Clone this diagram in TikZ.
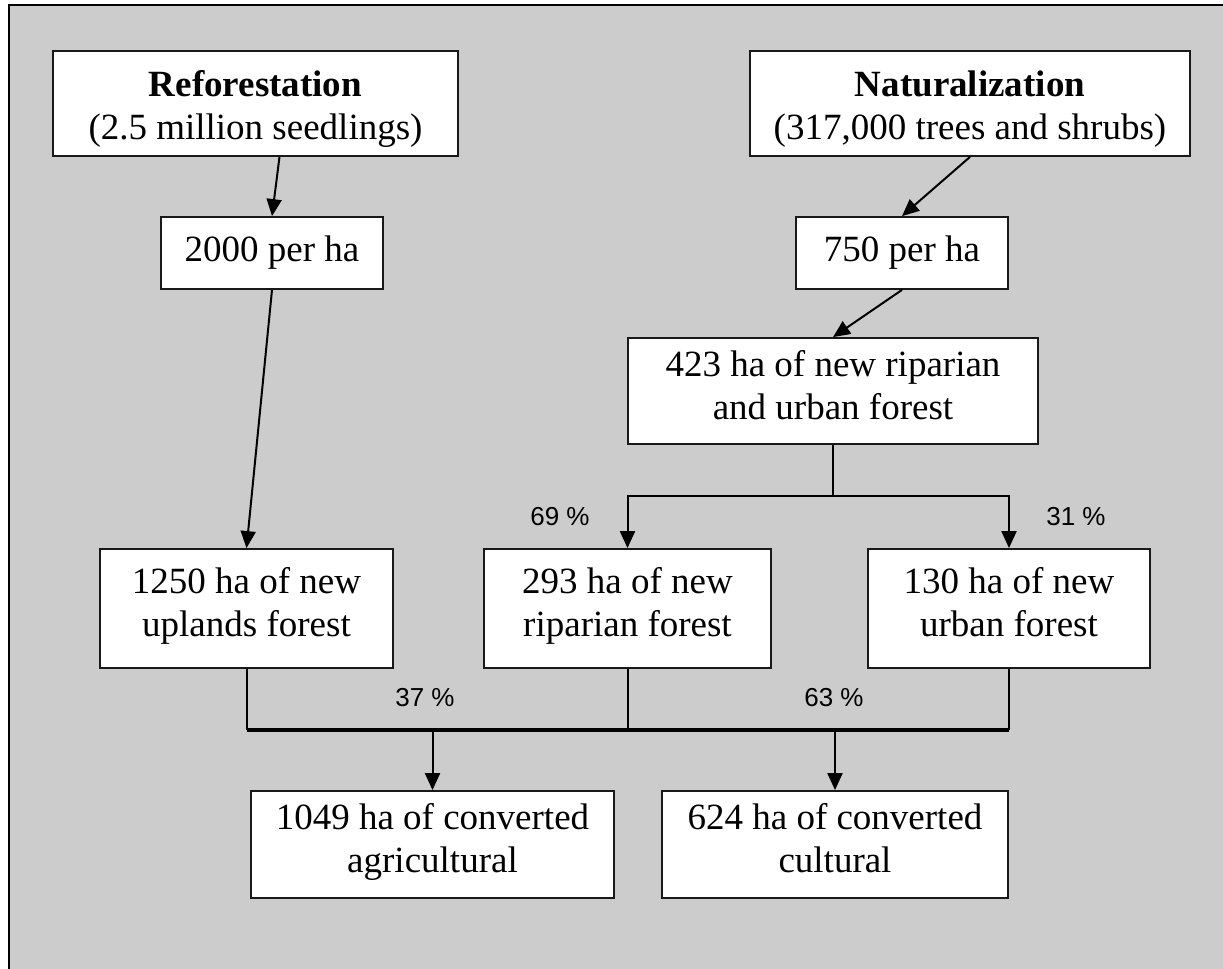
\documentclass[tikz,border=0pt]{standalone}
\usepackage{fontspec}
\setmainfont{Liberation Serif}
\newfontfamily\sharefont{Liberation Sans}
\usetikzlibrary{arrows.meta}
\tikzset{
	flowbox/.style = {shape=rectangle, draw=black!90, line width=0.9pt,
		fill=white, align=center, inner sep=0pt,
		font=\fontsize{18.5}{21.5}\selectfont,
		execute at begin node=\strut, execute at end node=\strut},
	headbox/.style = {flowbox, minimum height=52.5pt,
		execute at begin node=\rule{0pt}{42pt}},
	share/.style   = {font=\sharefont\fontsize{13}{15}\selectfont},
	wire/.style    = {draw, line width=1pt},
	bus/.style     = {draw, line width=1.6pt},
	link/.style    = {wire, -{Triangle[length=8.5pt,width=7.5pt]}}
}
\begin{document}
\begin{tikzpicture}
	[
	x = 0.5pt,
	y = -0.5pt
	]
	\useasboundingbox (0,0) rectangle (1223,969);
	\fill[black!20] (9,5) rectangle (1223,969);
	\draw[line width=1pt] (9,969) -- (9,5) -- (1223,5);

	\node [headbox, minimum width=202.5pt] (refo) at (255.5,103.5)
		{\textbf{Reforestation}\\(2.5 million seedlings)};
	\node [headbox, minimum width=220pt] (natu) at (970,103.5)
		{\textbf{Naturalization}\\(317,000 trees and shrubs)};
	\node [flowbox, minimum width=111pt, minimum height=36pt] (refoha) at (272,253) {2000 per ha};
	\node [flowbox, minimum width=106pt, minimum height=36pt] (natuha) at (902,253) {750 per ha};
	\node [flowbox, minimum width=205pt, minimum height=53pt] (riparurban) at (833,391)
		{423 ha of new riparian\\and urban forest};
	\node [flowbox, minimum width=146.5pt, minimum height=59.5pt] (uplands) at (246.5,608.5)
		{1250 ha of new\\uplands forest};
	\node [flowbox, minimum width=143.5pt, minimum height=59.5pt] (riparian) at (627.5,608.5)
		{293 ha of new\\riparian forest};
	\node [flowbox, minimum width=141pt, minimum height=59.5pt] (urban) at (1009,608.5)
		{130 ha of new\\urban forest};
	\node [flowbox, minimum width=181.5pt, minimum height=53.5pt] (agri) at (432.5,844.5)
		{1049 ha of converted\\agricultural};
	\node [flowbox, minimum width=173pt, minimum height=53.5pt] (cult) at (835,844.5)
		{624 ha of converted\\cultural};

	\node [share] (share69) at (560,517) {69 \%};
	\node [share] (share31) at (1076,517) {31 \%};
	\node [share] (share37) at (425,698) {37 \%};
	\node [share] (share63) at (834,698) {63 \%};

	\coordinate (split) at (833,496);
	\coordinate (merge) at (627.5,730);

	\draw [link] ([xshift=12pt]refo.south) -- (refoha.north);
	\draw [link] (refoha.south) -- (uplands.north);
	\draw [link] (natu.south) -- (natuha.north);
	\draw [link] (natuha.south) -- (riparurban.north);
	\draw [wire] (riparurban.south) -- (split);
	\draw [link] (split) -| (riparian.north);
	\draw [link] (split) -| (urban.north);
	\draw [wire] (uplands.south) -- (uplands.south |- merge);
	\draw [wire] (riparian.south) -- (merge);
	\draw [wire] (urban.south) -- (urban.south |- merge);
	\draw [bus] (uplands.south |- merge) -- (urban.south |- merge);
	\draw [link] (agri.north |- merge) -- (agri.north);
	\draw [link] (cult.north |- merge) -- (cult.north);
\end{tikzpicture}
\end{document}
